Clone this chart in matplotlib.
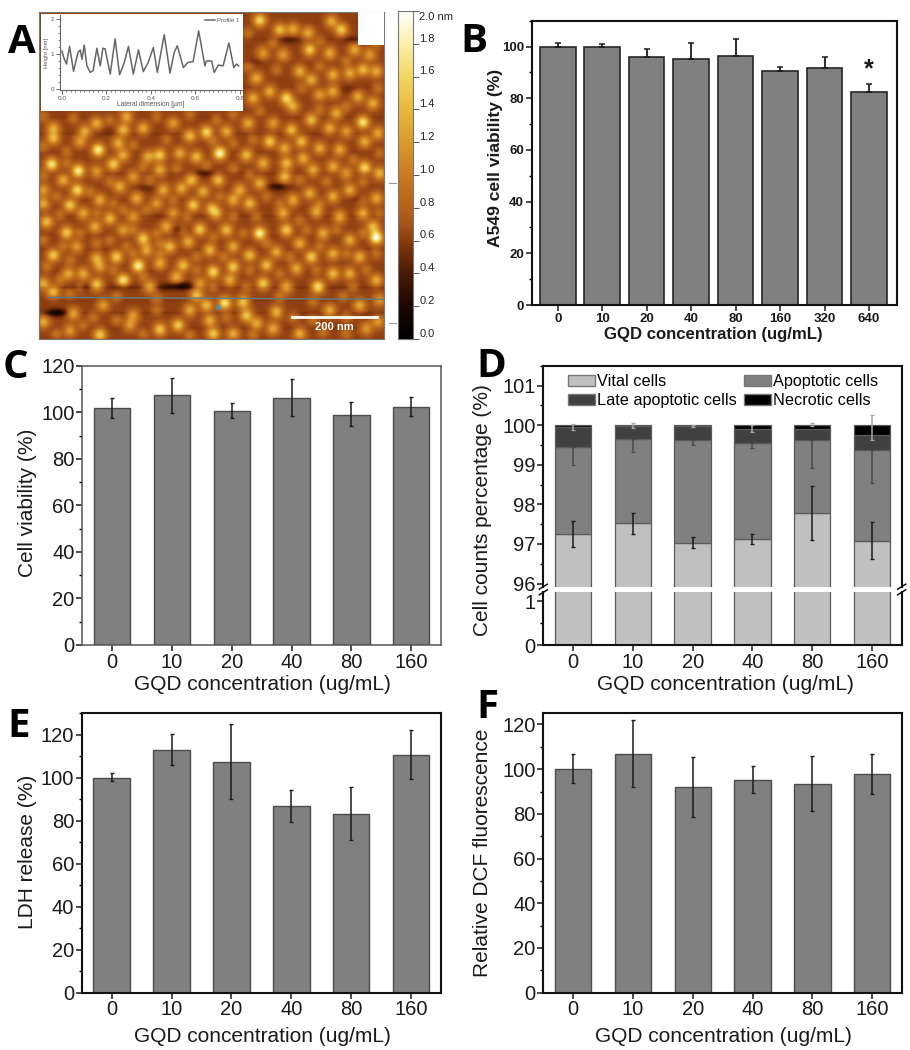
import matplotlib
matplotlib.use('Agg')
import matplotlib.pyplot as plt
import numpy as np
from matplotlib.colors import LinearSegmentedColormap
from matplotlib.patches import Patch, Rectangle

plt.rcParams['font.family'] = ['Liberation Sans', 'DejaVu Sans']

wFig, hFig = 910, 1050

# Panel A: bumps (x, y on the scan, height in nm)
afmBumps = [
    (780,62,1.6),(840,90,1.4),(880,88,1.3),(925,100,1.3),(995,65,1.3),(1025,90,1.5),(930,150,1.5),(790,160,1.2),
    (850,165,1.2),(990,160,1.3),(1065,150,1.3),(1110,165,1.2),(770,235,1.3),(900,215,1.3),(935,240,1.3),(1000,225,1.3),
    (1050,220,1.3),(1090,210,1.4),(1130,215,1.3),(860,295,1.6),(810,275,1.3),(760,295,1.3),(1000,275,1.3),(1075,290,1.3),
    (1120,310,1.3),(960,285,1.2),(880,320,1.3),(1010,340,1.3),(935,360,1.4),(1090,367,1.7),(990,385,1.3),(875,390,1.4),
    (820,370,1.2),(745,370,1.3),(1040,395,1.2),(1135,400,1.3),(380,350,1.3),(160,385,1.3),(290,370,1.3),(370,390,1.4),
    (255,395,1.3),(430,385,1.3),(520,370,1.2),(570,408,1.4),(620,397,1.6),(680,395,1.3),(160,415,1.4),(295,450,1.8),
    (355,430,1.3),(240,425,1.2),(480,465,1.5),(445,470,1.3),(540,460,1.3),(590,470,1.4),(660,460,1.9),(740,465,1.4),
    (810,425,1.5),(855,445,1.3),(905,425,1.4),(960,445,1.3),(1020,450,1.3),(1095,425,1.3),(155,493,1.7),(235,513,1.8),
    (340,493,1.5),(290,515,1.2),(370,465,1.3),(400,530,1.2),(480,510,1.3),(575,540,1.4),(655,540,1.4),(790,490,1.3),
    (860,490,1.4),(910,475,1.3),(1000,500,1.3),(1095,503,1.6),(1140,520,1.4),(190,540,1.3),(1040,520,1.2),(855,530,1.4),
    (940,510,1.3),(720,570,1.3),(780,550,1.3),(232,570,1.6),(130,570,1.2),(300,600,1.3),(360,560,1.3),(410,595,1.3),
    (490,570,1.3),(545,565,1.3),(610,575,1.3),(210,615,1.5),(130,610,1.3),(250,640,1.3),(470,610,1.2),(580,615,1.5),
    (635,625,1.3),(700,600,1.3),(750,610,1.4),(880,600,1.3),(930,580,1.3),(1000,590,1.3),(1050,570,1.3),(1130,595,1.3),
    (330,655,1.4),(140,665,1.4),(400,650,1.2),(520,640,1.2),(650,640,1.3),(850,640,1.3),(950,635,1.3),(1020,650,1.3),
    (1090,640,1.3),(200,698,1.5),(285,680,1.3),(370,690,1.2),(430,715,1.5),(500,680,1.3),(600,688,1.5),(680,690,1.4),
    (780,700,1.8),(860,690,1.5),(1130,712,2.0),(1120,680,1.4),(970,700,1.3),(1050,720,1.3),(160,765,1.5),(350,770,1.5),
    (290,775,1.3),(230,740,1.2),(440,750,1.3),(510,740,1.4),(565,725,1.3),(630,750,1.4),(700,740,1.3),(750,765,1.4),
    (830,755,1.3),(900,730,1.3),(935,770,1.5),(1000,760,1.3),(1080,770,1.3),(415,797,1.8),(370,840,1.7),(205,820,1.3),
    (250,820,1.3),(300,800,1.2),(480,790,1.3),(550,795,1.4),(640,815,1.6),(700,800,1.5),(800,795,1.4),(890,805,1.3),
    (1000,820,1.4),(1050,820,1.3),(130,850,1.3),(290,853,1.5),(450,860,1.3),(530,830,1.3),(600,850,1.2),(690,840,1.3),
    (790,850,1.5),(860,860,1.3),(955,860,1.7),(1130,840,1.3),(160,875,1.4),(590,885,1.4),(730,905,1.5),(675,908,1.7),
    (620,915,1.4),(570,930,1.3),(220,940,1.3),(310,915,1.2),(400,945,1.2),(830,935,1.4),(740,945,1.5),(770,970,1.3),
    (990,930,1.3),(1080,915,1.3),(1140,900,1.2),(130,965,1.3),(300,1003,1.5),(480,987,1.5),(535,975,1.5),(630,960,1.3),
    (640,1000,1.5),(700,1000,1.3),(820,985,1.3),(900,1000,1.3),(1100,985,1.2),(1135,965,1.2),(390,975,1.2),(210,990,1.2),
]
# fainter lumps between the bright ones
afmLumps = [
    (745,100,0.9),(960,125,0.9),(820,130,0.92),(1130,130,0.9),(1040,185,0.92),(745,200,0.92),(830,210,0.9),(960,200,0.92),
    (1135,265,0.92),(905,265,0.9),(1040,320,0.92),(780,335,0.9),(960,330,0.92),(130,350,0.9),(220,355,0.92),(330,360,0.9),
    (470,350,0.92),(570,345,0.9),(650,360,0.92),(700,345,0.9),(130,440,0.92),(200,455,0.9),(400,435,0.92),(500,420,0.9),
    (640,425,0.92),(700,430,0.9),(760,420,0.92),(1060,480,0.92),(1140,460,0.9),(200,490,0.9),(430,500,0.92),(530,505,0.92),
    (620,495,0.9),(700,505,0.92),(750,525,0.9),(130,525,0.92),(330,545,0.92),(450,540,0.9),(900,540,0.92),(980,545,0.92),
    (1090,545,0.9),(170,590,0.92),(270,575,0.92),(340,610,0.92),(440,630,0.92),(520,600,0.92),(660,590,0.92),(800,590,0.92),
    (840,610,0.9),(960,610,0.92),(1090,600,0.92),(180,645,0.92),(290,640,0.92),(370,630,0.92),(560,650,0.92),(700,650,0.92),
    (770,650,0.92),(900,660,0.92),(1140,640,0.9),(130,720,0.92),(240,700,0.92),(330,720,0.92),(400,690,0.92),(470,700,0.92),
    (550,690,0.92),(640,710,0.92),(730,700,0.92),(920,690,0.92),(1010,690,0.9),(1090,700,0.92),(190,740,0.92),(290,730,0.92),
    (380,740,0.92),(480,730,0.92),(800,730,0.92),(960,740,0.92),(1040,760,0.92),(1130,760,0.92),(210,780,0.92),(400,760,0.92),
    (480,760,0.92),(590,770,0.92),(670,770,0.92),(870,770,0.92),(140,800,0.92),(340,810,0.92),(430,830,0.92),(590,810,0.92),
    (750,810,0.92),(840,820,0.92),(950,810,0.92),(1100,810,0.92),(180,840,0.92),(240,860,0.9),(640,860,0.92),(740,860,0.92),
    (1060,860,0.92),(210,880,0.92),(350,890,0.92),(470,895,0.92),(840,890,0.92),(940,905,0.92),(1030,890,0.92),(280,950,0.92),
    (350,960,0.92),(470,930,0.92),(680,950,0.92),(880,950,0.92),(940,960,0.92),(1040,950,0.92),(170,1000,0.92),(250,975,0.92),
    (430,1000,0.92),(570,1005,0.92),(760,1005,0.92),(970,995,0.92),(1040,1000,0.92),
]
afmPits = [
    (170,937,0.15),(550,857,0.2),(835,560,0.3),(615,520,0.42),(870,120,0.42),(1060,120,0.46),(760,185,0.5),(330,395,0.55),
    (440,565,0.5),(540,688,0.42),(510,650,0.55),(1085,595,0.5),(250,860,0.45),(370,860,0.45),(500,860,0.4),(1050,270,0.5),
    (1100,950,0.55),
]
# scan lines that sit a little low or high (y on the scan, offset in nm)
afmRows = [
    (70,-0.02),(118,-0.04),(176,0.02),(262,-0.03),(318,0.02),(352,-0.03),(402,-0.04),(456,-0.03),(488,0.02),(520,-0.05),
    (548,0.02),(600,-0.03),(648,-0.05),(672,0.02),(706,-0.03),(748,-0.04),(780,0.02),(812,-0.03),(836,0.02),(862,-0.08),
    (884,0.02),(902,-0.03),(938,-0.05),(962,0.02),(984,-0.04),(1004,0.01),
]
cbarTicks = [0.0, 0.2, 0.4, 0.6, 0.8, 1.0, 1.2, 1.4, 1.6, 1.8, 2.0]

# inset height profile
profX = [0.0,0.008,0.02,0.034,0.052,0.072,0.082,0.09,0.1,0.112,0.127,0.14,0.157,0.172,0.184,0.194,0.217,0.239,0.259,
         0.28,0.299,0.321,0.344,0.366,0.388,0.411,0.429,0.46,0.486,0.505,0.519,0.546,0.56,0.568,0.59,0.615,0.643,0.65,
         0.673,0.685,0.703,0.725,0.751,0.773,0.785,0.795]
profH = [1.08,0.9,0.71,1.22,0.5,1.05,1.12,0.85,1.26,0.66,0.47,0.52,1.17,0.66,1.17,1.15,0.42,1.44,0.4,0.75,1.22,0.42,
         1.12,0.49,0.76,1.19,0.47,1.56,0.45,1.05,1.24,0.61,0.71,0.76,0.78,1.67,0.66,0.8,0.8,0.47,0.68,0.66,1.32,0.61,
         0.71,0.66]

# Panel B
concB = ['0', '10', '20', '40', '80', '160', '320', '640']
viabB = [100, 100, 96.1, 95, 96.5, 90.4, 91.8, 82.4]
viabBTop = [101.3, 100.9, 99, 101.5, 103, 91.9, 96.1, 85.4]

conc = ['0', '10', '20', '40', '80', '160']

# Panel C
viabC = [101.7, 107.2, 100.6, 106.3, 98.9, 102.3]
viabCTop = [106, 114.9, 103.9, 114.3, 104.2, 106.7]
viabCLow = [97.4, 99.6, 97.7, 98.6, 94.1, 98.6]

# Panel D
vital = [97.25, 97.52, 97.03, 97.12, 97.77, 97.07]
apoptoticTop = [99.44, 99.65, 99.62, 99.56, 99.62, 99.37]
lateTop = [99.94, 99.97, 99.98, 99.9, 99.9, 99.76]
necroticTop = [100, 100, 100, 100, 100, 100]
vitalErrTop = [97.58, 97.79, 97.18, 97.25, 98.46, 97.55]
vitalErrLow = [96.93, 97.26, 96.9, 97.0, 97.11, 96.63]
apoptoticErrLow = [99.0, 99.31, 99.51, 99.43, 98.92, 98.54]
lateErrTop = [100.03, 100.05, 100.0, 100.0, 100.05, 100.25]
lateErrLow = [99.87, 99.92, 99.96, 99.83, 99.98, 99.62]

# Panel E
ldh = [100, 112.9, 107.4, 86.7, 83.3, 110.5]
ldhTop = [102, 120.5, 125.1, 94.3, 95.8, 122.2]
ldhLow = [98.3, 105.9, 89.9, 79.4, 70.9, 99.5]

# Panel F
dcf = [100, 107, 92.2, 95.1, 93.4, 97.8]
dcfTop = [106.6, 122.2, 105.5, 101.6, 106.1, 107]
dcfLow = [93.6, 92, 78.8, 89.4, 81.2, 88.7]

fig = plt.figure(figsize=(wFig/100, hFig/100), dpi=100, facecolor='w')


def add_ax(left, top, right, bottom):
    return fig.add_axes([left/wFig, 1-bottom/hFig, (right-left)/wFig, (bottom-top)/hFig])


def put_labels(ax, xlab, ylab, xPos, yPos, size, weight='normal', ySize=None):
    ax.set_xlabel(xlab, fontsize=size, fontweight=weight, color='#1a1a1a', va='center', ha='center')
    ax.set_ylabel(ylab, fontsize=ySize or size, fontweight=weight, color='#1a1a1a', va='center', ha='center')
    ax.xaxis.set_label_coords(xPos[0]/wFig, 1-xPos[1]/hFig, transform=fig.transFigure)
    ax.yaxis.set_label_coords(yPos[0]/wFig, 1-yPos[1]/hFig, transform=fig.transFigure)


def style_ax(ax, edge='#111111', lw=1.3, size=14.5):
    for s in ax.spines.values():
        s.set_linewidth(lw)
        s.set_color(edge)
    ax.tick_params(axis='both', which='major', length=4, width=1.1, labelsize=size, pad=1.5, colors='#1a1a1a')
    ax.tick_params(axis='y', which='minor', length=2, width=1)


def bar_panel(box, vals, top, low, ylim, yStep, xlab, ylab, xPos, yPos, edge='#111111', lw=1.3):
    ax = add_ax(*box)
    x = np.arange(len(vals))
    ax.bar(x, vals, width=0.61, color='#808080', edgecolor='#4c4c4c', linewidth=1.0)
    vals = np.array(vals)
    ax.errorbar(x, vals, yerr=[vals-np.array(low), np.array(top)-vals], fmt='none', ecolor='#1c1c1c',
                elinewidth=1.1, capsize=1.2, capthick=1.0)
    ax.set_xlim(-0.5, 5.5)
    ax.set_ylim(*ylim)
    ax.set_xticks(x)
    ax.set_xticklabels(conc)
    ax.set_yticks(np.arange(0, ylim[1]+0.1, yStep))
    ax.set_yticks(np.arange(0, ylim[1]+0.1, yStep/2), minor=True)
    style_ax(ax, edge, lw)
    put_labels(ax, xlab, ylab, xPos, yPos, 15)
    return ax


# ---- A: height image
gold = LinearSegmentedColormap.from_list('afm', [
    (0.0, '#000000'), (0.1, '#1c0800'), (0.2, '#4a1a05'), (0.3, '#8a3c0e'), (0.35, '#a5541a'), (0.4, '#b5621a'),
    (0.5, '#ca7a20'), (0.6, '#dc9a2c'), (0.7, '#e9b83c'), (0.8, '#f3d660'), (0.9, '#fbf0a8'), (1.0, '#ffffff')])

xs = np.arange(118, 1153, 2.0)
ys = np.arange(35, 1017, 2.0)
gx, gy = np.meshgrid(xs, ys)
baseH = 0.62
field = np.full(gx.shape, baseH)
for bx, by, bh in afmBumps:
    field += (bh-baseH)*np.exp(-((gx-bx)**2+(gy-by)**2)/(2*13.0**2))
for bx, by, bh in afmLumps:
    field += (bh-baseH)*np.exp(-((gx-bx)**2+(gy-by)**2)/(2*11.0**2))
for bx, by, bh in afmPits:
    field += (bh-baseH)*np.exp(-((gx-bx)**2/(2*22.0**2)+(gy-by)**2/(2*8.0**2)))
for ry, rh in afmRows:
    field += rh*np.exp(-(gy-ry)**2/(2*3.0**2))

axA = add_ax(39.3, 11.5, 384.3, 339)
axA.imshow(field, cmap=gold, vmin=0, vmax=2, extent=(118, 1153, 1017, 35), aspect='auto', interpolation='bilinear')
axA.set_xticks([])
axA.set_yticks([])
for s in axA.spines.values():
    s.set_color('#777777')
    s.set_linewidth(0.8)
axA.add_patch(Rectangle((1075, 33), 80, 102, fc='w', ec='none', zorder=3))
axA.plot([148, 1150], [892, 898], color='#5f7f86', lw=1.0, zorder=4)
axA.plot([655], [918], marker='^', ms=3.5, color='#5f8f9a', zorder=4)
axA.plot([875, 1130], [952, 952], color='w', lw=2.0, zorder=4)
axA.text(1003, 981, '200 nm', color='w', fontsize=8, ha='center', va='center', fontweight='bold', zorder=4)
axA.set_xlim(118, 1153)
axA.set_ylim(1017, 35)

# white block behind the inset
axA.add_patch(Rectangle((122, 42), 606, 290, fc='w', ec='none', zorder=5))
axI = add_ax(60, 15, 242, 90)
axI.patch.set_alpha(0)
axI.plot(profX, profH, color='#666666', lw=1.1, label='Profile 1')
axI.set_xlim(-0.009, 0.81)
axI.set_ylim(-0.04, 2.13)
axI.set_xticks([0.0, 0.2, 0.4, 0.6, 0.8])
axI.set_xticks(np.arange(0, 0.81, 0.02), minor=True)
axI.set_yticks([0, 1, 2])
axI.set_yticks(np.arange(0, 2.01, 0.2), minor=True)
axI.tick_params(which='major', length=3, width=0.6, labelsize=4.6, pad=1, colors='#555555')
axI.tick_params(which='minor', length=1.5, width=0.5, colors='#555555')
axI.spines['top'].set_visible(False)
axI.spines['right'].set_visible(False)
axI.spines['left'].set_color('#666666')
axI.spines['bottom'].set_color('#666666')
axI.set_xlabel('Lateral dimension [\u00b5m]', fontsize=4.8, color='#555555', labelpad=0.5)
axI.set_ylabel('Height [nm]', fontsize=4.2, color='#555555', labelpad=1)
axI.legend(loc='upper right', frameon=False, fontsize=4.4, labelcolor='#555555', handlelength=1.6,
           borderaxespad=0, handletextpad=0.4)

# colour scale
axC2 = add_ax(398, 11, 413, 339)
axC2.imshow(np.linspace(2, 0, 256)[:, None], cmap=gold, vmin=0, vmax=2, extent=(0, 1, 0, 2), aspect='auto')
axC2.set_xticks([])
axC2.yaxis.tick_right()
axC2.set_yticks(cbarTicks)
axC2.set_yticklabels([])
axC2.tick_params(axis='y', length=4, width=0.7, color='#555555')
for s in axC2.spines.values():
    s.set_color('#777777')
    s.set_linewidth(0.8)
for t in cbarTicks:
    lab = '%.1f' % t
    dy = 3.8
    if t == 2.0:
        lab = '2.0 nm'
        dy = -4.5
    axC2.annotate(lab, (1, t), xytext=(4.5, dy), textcoords='offset points', fontsize=8, va='center', color='#222222',
                  annotation_clip=False)
# two little dashes next to the scan
fig.add_artist(plt.Line2D([389/wFig, 396/wFig], [1-183/hFig]*2, color='#999999', lw=0.8))
fig.add_artist(plt.Line2D([389/wFig, 396/wFig], [1-323/hFig]*2, color='#999999', lw=0.8))

# ---- B
axB = add_ax(531.7, 20.7, 896.7, 305)
xB = np.arange(len(viabB))
axB.bar(xB, viabB, width=0.8, color='#808080', edgecolor='#262626', linewidth=1.2)
axB.errorbar(xB, viabB, yerr=[np.zeros(len(viabB)), np.array(viabBTop)-np.array(viabB)], fmt='none', ecolor='#1c1c1c',
             elinewidth=1.3, capsize=2, capthick=1.1)
axB.set_xlim(-0.585, 7.62)
axB.set_ylim(0, 110)
axB.set_xticks(xB)
axB.set_xticklabels(concB)
axB.set_yticks(np.arange(0, 101, 20))
axB.set_yticks(np.arange(0, 111, 10), minor=True)
style_ax(axB, '#111111', 1.5, 9.5)
for lab in axB.get_xticklabels()+axB.get_yticklabels():
    lab.set_fontweight('bold')
axB.text(7, 91.0, '*', fontsize=18, fontweight='bold', ha='center', va='center', color='#1a1a1a')
put_labels(axB, 'GQD concentration (ug/mL)', 'A549 cell viability (%)', (713, 334), (496, 158), 12.1, 'bold', 12.6)

# ---- C, E, F
bar_panel((82.3, 365.7, 441, 645), viabC, viabCTop, viabCLow, (0, 120), 20,
          'GQD concentration (ug/mL)', 'Cell viability (%)', (262, 685), (28, 503), '#555555', 1.1)
bar_panel((81.7, 713.3, 441, 992.7), ldh, ldhTop, ldhLow, (0, 130), 20,
          'GQD concentration (ug/mL)', 'LDH release (%)', (262, 1037), (28, 852), '#111111', 1.5)
bar_panel((543.3, 713.3, 902, 992.7), dcf, dcfTop, dcfLow, (0, 125), 20,
          'GQD concentration (ug/mL)', 'Relative DCF fluorescence', (723, 1037), (483, 853), '#111111', 1.5)

# ---- D, broken axis
axU = add_ax(543.3, 365.7, 901.7, 586.7)
axL = add_ax(543.3, 592.3, 901.7, 645.3)
xD = np.arange(len(vital))
parts = [(np.zeros(6), np.array(vital), '#c0c0c0', 'Vital cells'),
         (np.array(vital), np.array(apoptoticTop), '#808080', 'Apoptotic cells'),
         (np.array(apoptoticTop), np.array(lateTop), '#404040', 'Late apoptotic cells'),
         (np.array(lateTop), np.array(necroticTop), '#000000', 'Necrotic cells')]
for ax in (axU, axL):
    for base, tip, col, name in parts:
        ax.bar(xD, tip-base, bottom=base, width=0.61, color=col, edgecolor='#5a5a5a', linewidth=0.9)
    ax.set_xlim(-0.5, 5.5)
    style_ax(ax, '#111111', 1.5)
axU.errorbar(xD, vital, yerr=[np.array(vital)-np.array(vitalErrLow), np.array(vitalErrTop)-np.array(vital)], fmt='none',
             ecolor='#1c1c1c', elinewidth=1.1, capsize=1.2, capthick=1.0)
axU.errorbar(xD, apoptoticTop, yerr=[np.array(apoptoticTop)-np.array(apoptoticErrLow), np.zeros(6)], fmt='none',
             ecolor='#4a4a4a', elinewidth=1.1, capsize=1.2, capthick=0.9)
axU.errorbar(xD, necroticTop, yerr=[np.array(necroticTop)-np.array(lateErrLow), np.array(lateErrTop)-np.array(necroticTop)],
             fmt='none', ecolor='#a8a8a8', elinewidth=1.1, capsize=1.2, capthick=0.9)
axU.set_ylim(95.92, 101.5)
axU.set_yticks([96, 97, 98, 99, 100, 101])
axU.set_yticks(np.arange(96, 101.6, 0.5), minor=True)
axU.spines['bottom'].set_visible(False)
axU.tick_params(axis='x', which='both', bottom=False, labelbottom=False)
axL.set_ylim(0, 1.21)
axL.set_yticks([0, 1])
axL.set_yticks([0, 0.5, 1], minor=True)
axL.spines['top'].set_visible(False)
axL.set_xticks(xD)
axL.set_xticklabels(conc)
put_labels(axL, 'GQD concentration (ug/mL)', '', (725, 685), (483, 510), 15)
fig.text(483/wFig, 1-510/hFig, 'Cell counts percentage (%)', rotation=90, fontsize=15, color='#1a1a1a',
         ha='center', va='center')
for xm in (543.3, 901.7):
    for ym in (586.7, 592.3):
        fig.add_artist(plt.Line2D([(xm-4)/wFig, (xm+4)/wFig], [1-(ym+2.5)/hFig, 1-(ym-2.5)/hFig], color='#111111', lw=1.1))
hands = [Patch(fc=p[2], ec='#777777', lw=1) for p in parts]
names = [p[3] for p in parts]
axU.legend([hands[0], hands[2], hands[1], hands[3]], [names[0], names[2], names[1], names[3]], ncol=2, frameon=False,
           fontsize=11.7, loc='upper left', bbox_to_anchor=(0.07, 0.962), borderaxespad=0, borderpad=0,
           handlelength=1.66, handleheight=0.66, handletextpad=0.12, columnspacing=0.45, labelspacing=0.27)

# ---- panel letters
letters = [('A', 8, 53), ('B', 460, 52), ('C', 3, 378), ('D', 476, 377), ('E', 7, 737), ('F', 476, 718)]
for let, lx, ly in letters:
    fig.text(lx/wFig, 1-ly/hFig, let, fontsize=29, fontweight='bold', family='Open Sans', color='k', ha='left', va='baseline')

fig.savefig('out.png', dpi=100)
